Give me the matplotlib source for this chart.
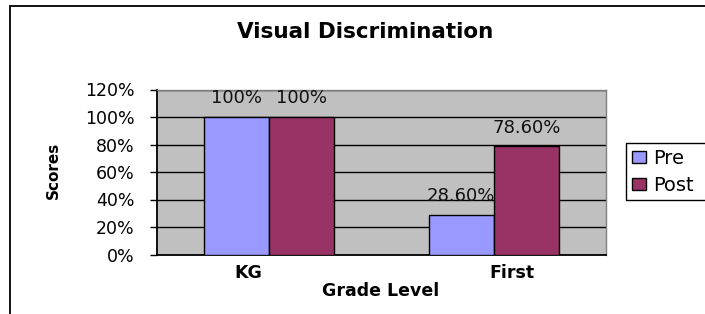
import matplotlib
matplotlib.use("Agg")
import matplotlib.pyplot as plt
import matplotlib.transforms as mtransforms
from matplotlib.patches import Rectangle
import numpy as np

# Data
grades = ['KG', 'First']
pre = [1.00, 0.286]
post = [1.00, 0.786]
pre_labels = ['100%', '28.60%']
post_labels = ['100%', '78.60%']
y_ticks = [0, 0.2, 0.4, 0.6, 0.8, 1.0, 1.2]

plt.rcParams['font.family'] = ['DejaVu Sans']

fig = plt.figure(figsize=(7.05, 3.14), dpi=100)
fig.patch.set_facecolor('white')

# outer frame of the chart (cut off at right and bottom)
frame = Rectangle((10 / 705, -0.2), 1.2, 1.2 - 6 / 314, transform=fig.transFigure,
                  fill=False, edgecolor='black', linewidth=1.3)
fig.patches.append(frame)

ax = fig.add_axes([157 / 705, 1 - 254.5 / 314, (606 - 157) / 705, 165 / 314])
ax.set_facecolor('#C0C0C0')

x = np.arange(len(grades))
w = 0.29
bars_pre = ax.bar(x - w / 2, pre, w, color='#9999FF', edgecolor='black', linewidth=1, label='Pre', zorder=3)
bars_post = ax.bar(x + w / 2, post, w, color='#993366', edgecolor='black', linewidth=1, label='Post', zorder=3)

# value labels above the bars
for bars, labs in [(bars_pre, pre_labels), (bars_post, post_labels)]:
    for b, lab in zip(bars, labs):
        ax.annotate(lab, (b.get_x() + b.get_width() / 2, b.get_height()),
                    xytext=(0, 13.5), textcoords='offset points',
                    ha='center', va='center', fontsize=13, color='#111111', zorder=4)

ax.set_xlim(-0.5, 1.5)
ax.set_ylim(0, 1.2)
ax.set_yticks(y_ticks)
ax.set_yticklabels(['%d%%' % round(v * 100) for v in y_ticks], fontsize=12.5)
ax.yaxis.grid(True, color='black', linewidth=1, zorder=1)
ax.set_axisbelow(True)
ax.tick_params(axis='y', length=5, width=1, pad=11)

ax.set_xticks(x)
ax.set_xticklabels(grades, fontsize=12.5, fontweight='bold')
ax.tick_params(axis='x', length=0, pad=7)
# nudge category labels like the original
for lab, dx in zip(ax.get_xticklabels(), [-21, 18]):
    lab.set_transform(lab.get_transform() + mtransforms.ScaledTranslation(dx / 100, 0, fig.dpi_scale_trans))

for s in ['top', 'right']:
    ax.spines[s].set_color('#808080')
    ax.spines[s].set_linewidth(1)
ax.spines['left'].set_linewidth(1.3)
ax.spines['bottom'].set_linewidth(1.3)

fig.text(365 / 705, 1 - 32 / 314, 'Visual Discrimination', ha='center', va='center',
         fontsize=15.5, fontweight='bold')
fig.text(381 / 705, 1 - 291 / 314, 'Grade Level', ha='center', va='center',
         fontsize=12.5, fontweight='bold')
fig.text(53 / 705, 1 - 170 / 314, 'Scores', ha='center', va='center', rotation=90,
         fontsize=11, fontweight='bold')

# legend box runs past the right edge, as in the original crop
leg = fig.legend(handles=[bars_pre, bars_post], labels=['Pre', 'Post'], loc='upper left',
                 bbox_to_anchor=(626 / 705, 1 - 200 / 314, 100 / 705, 57 / 314), mode='expand',
                 borderaxespad=0, fontsize=14,
                 fancybox=False, framealpha=1, edgecolor='black', handlelength=0.72,
                 handleheight=0.55, handletextpad=0.4, labelspacing=0.4, borderpad=0.3)
leg.get_frame().set_linewidth(1)

fig.savefig('out.png', dpi=100)
